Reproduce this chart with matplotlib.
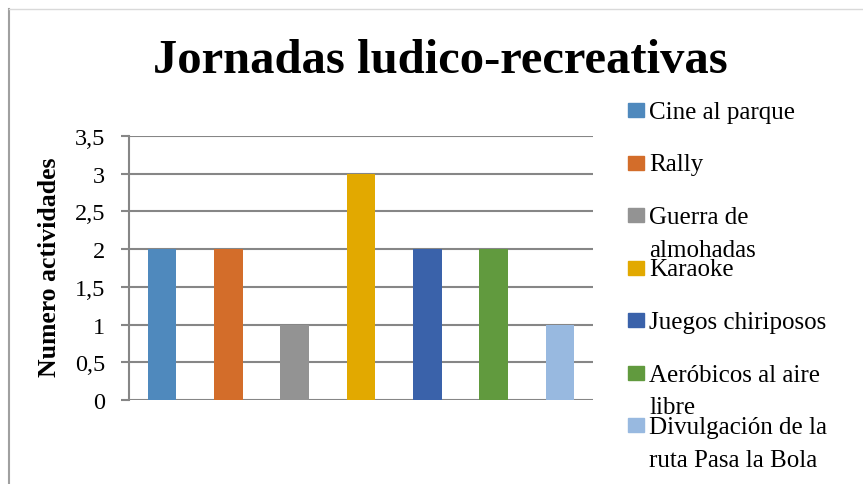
import matplotlib
matplotlib.use("Agg")
import matplotlib.pyplot as plt
from matplotlib.patches import Rectangle
from matplotlib.lines import Line2D

title = "Jornadas ludico-recreativas"
ylabel = "Numero actividades"
categories = ["Cine al parque", "Rally", "Guerra de\nalmohadas", "Karaoke",
              "Juegos chiriposos", "Aeróbicos al aire\nlibre",
              "Divulgación de la\nruta Pasa la Bola"]
values = [2, 2, 1, 3, 2, 2, 1]
colors = ["#4F89BD", "#D36D2A", "#939393", "#E2A900", "#3A62AA", "#619A3E", "#98B9E0"]
yticks = [0, 0.5, 1, 1.5, 2, 2.5, 3, 3.5]
ytick_labels = ["0", "0,5", "1", "1,5", "2", "2,5", "3", "3,5"]

W, H = 863, 485
fig = plt.figure(figsize=(W / 100, H / 100), dpi=100)
plt.rcParams['font.family'] = ['Liberation Serif', 'DejaVu Serif']

ax = fig.add_axes([129 / W, 1 - 401 / H, 464 / W, 264 / H])
x = list(range(len(values)))
ax.bar(x, values, width=0.43, color=colors, zorder=3)
ax.set_xlim(-0.5, len(values) - 0.5)
ax.set_ylim(0, 3.5)
ax.set_yticks(yticks)
ax.set_yticklabels(ytick_labels, fontsize=17.5)
ax.set_xticks([])
ax.grid(axis='y', color='#868686', linewidth=1.5, zorder=0)
for s in ['top', 'right', 'bottom']:
    ax.spines[s].set_visible(False)
ax.spines['left'].set_color('#868686')
ax.spines['left'].set_linewidth(1.5)
ax.tick_params(axis='y', direction='out', length=6, width=1.5, color='#868686', pad=11)

fig.text(440 / W, 1 - 73 / H, title, fontsize=35, fontweight='bold',
         ha='center', va='baseline')
fig.text(50 / W, 1 - 267 / H, ylabel, fontsize=18.5, fontweight='bold',
         rotation=90, ha='center', va='center')

# frame lines
fig.add_artist(Line2D([9 / W, 9 / W], [0, 1 - 10 / H], color='#A0A0A0', linewidth=1.5,
                      transform=fig.transFigure))
fig.add_artist(Line2D([9 / W, 1], [1 - 10 / H, 1 - 10 / H], color='#D9D9D9', linewidth=1,
                      transform=fig.transFigure))

# legend
y0 = 111
step = 52.5
line_h = 33
for i, (lab, c) in enumerate(zip(categories, colors)):
    yc = y0 + i * step
    fig.add_artist(Rectangle((628 / W, 1 - (yc + 7) / H), 16 / W, 14 / H,
                             color=c, transform=fig.transFigure))
    for j, line in enumerate(lab.split("\n")):
        fig.text(649 / W, 1 - (yc + 2 + j * line_h) / H, line, fontsize=18,
                 ha='left', va='center')

fig.savefig("out.png", dpi=100)
